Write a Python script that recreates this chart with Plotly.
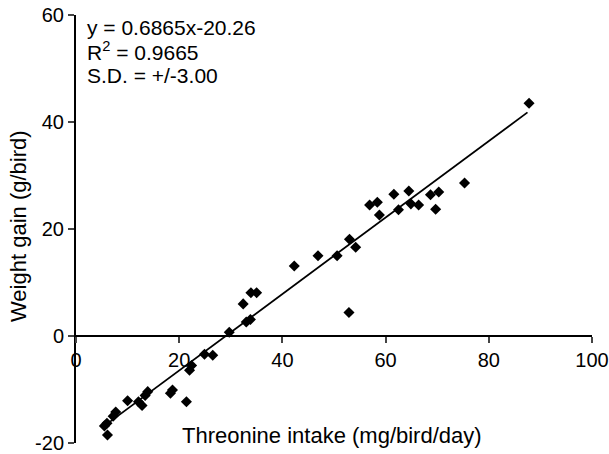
import plotly.graph_objects as go

# Data
threonine_intake = [5.5, 6.0, 6.1, 7.2, 7.7, 10.0, 12.1, 12.8, 13.4, 13.9,
                    18.3, 18.7, 21.4, 22.0, 22.4, 24.9, 26.5, 29.7, 33.0, 33.8,
                    32.4, 33.9, 35.0, 42.3, 46.9, 50.6, 52.9, 53.0, 54.2,
                    56.9, 58.4, 58.8, 61.6, 62.5, 64.5, 64.9, 66.4, 68.7,
                    70.3, 69.7, 75.3, 87.8]
weight_gain = [-16.8, -16.3, -18.5, -15.0, -14.2, -12.1, -12.3, -13.0, -11.1, -10.4,
               -10.7, -10.1, -12.3, -6.4, -5.5, -3.4, -3.6, 0.7, 2.6, 3.1,
               6.0, 8.1, 8.1, 13.1, 15.0, 15.0, 4.4, 18.1, 16.6,
               24.5, 25.0, 22.6, 26.5, 23.6, 27.1, 24.7, 24.5, 26.4,
               26.9, 23.7, 28.6, 43.5]

# Regression line as drawn in the picture (two end points)
fit_x = [5.5, 87.5]
fit_y = [-16.8, 41.8]

x_ticks = [0, 20, 40, 60, 80, 100]
x_tick_labels = ["0", "20", "40", "60", "80", "100"]
y_ticks = [-20, 0, 20, 40, 60]
y_tick_labels = ["-20", "0", "20", "40", "60"]

eq_lines = ["y = 0.6865x-20.26", "R<sup>2</sup> = 0.9665", "S.D. = +/-3.00"]

FONT = "Arial, Liberation Sans, sans-serif"

fig = go.Figure()
fig.add_trace(go.Scatter(x=fit_x, y=fit_y, mode="lines",
                         line=dict(color="black", width=1.8), showlegend=False,
                         hoverinfo="skip"))
fig.add_trace(go.Scatter(x=threonine_intake, y=weight_gain, mode="markers",
                         marker=dict(symbol="diamond", size=8.5, color="black",
                                     line=dict(width=0)),
                         showlegend=False))

W, H = 609, 454
ml, mr, mt, mb = 76, 17, 15, 11
pw, ph = W - ml - mr, H - mt - mb

def px_to_paper(px, py):
    return (px - ml) / pw, (H - mb - py) / ph

fig.update_layout(
    width=W, height=H,
    margin=dict(l=ml, r=mr, t=mt, b=mb, autoexpand=False),
    paper_bgcolor="white", plot_bgcolor="white",
    font=dict(family=FONT, size=20, color="black"),
    xaxis=dict(range=[0, 100], tickvals=x_ticks, ticktext=x_tick_labels,
               ticks="outside", ticklen=6,
               tickwidth=2, showline=True, linecolor="black", linewidth=2,
               showgrid=False, zeroline=False, anchor="free", position=0.25,
               automargin=False, tickfont=dict(size=20)),
    yaxis=dict(range=[-20, 60], tickvals=y_ticks, ticktext=y_tick_labels,
               ticks="outside", ticklen=6,
               tickwidth=2, showline=True, linecolor="black", linewidth=2,
               showgrid=False, zeroline=False, automargin=False,
               tickfont=dict(size=20)),
)

ys = [27, 51, 75]
for txt, py in zip(eq_lines, ys):
    ax, ay = px_to_paper(85, py)
    fig.add_annotation(text=txt, xref="paper", yref="paper", x=ax, y=ay,
                       xanchor="left", yanchor="middle", showarrow=False,
                       font=dict(size=21, family=FONT))

tx, ty = px_to_paper(332, 435)
fig.add_annotation(text="Threonine intake (mg/bird/day)", xref="paper", yref="paper",
                   x=tx, y=ty, xanchor="center", yanchor="middle", showarrow=False,
                   font=dict(size=22, family=FONT))
yx, yy = px_to_paper(18, 226)
fig.add_annotation(text="Weight gain (g/bird)", xref="paper", yref="paper",
                   x=yx, y=yy, xanchor="center", yanchor="middle", showarrow=False,
                   textangle=-90, font=dict(size=22, family=FONT))

fig.write_html("out.html", config={"displayModeBar": False},
               post_script="document.body.style.margin='0';document.body.style.padding='0';")
